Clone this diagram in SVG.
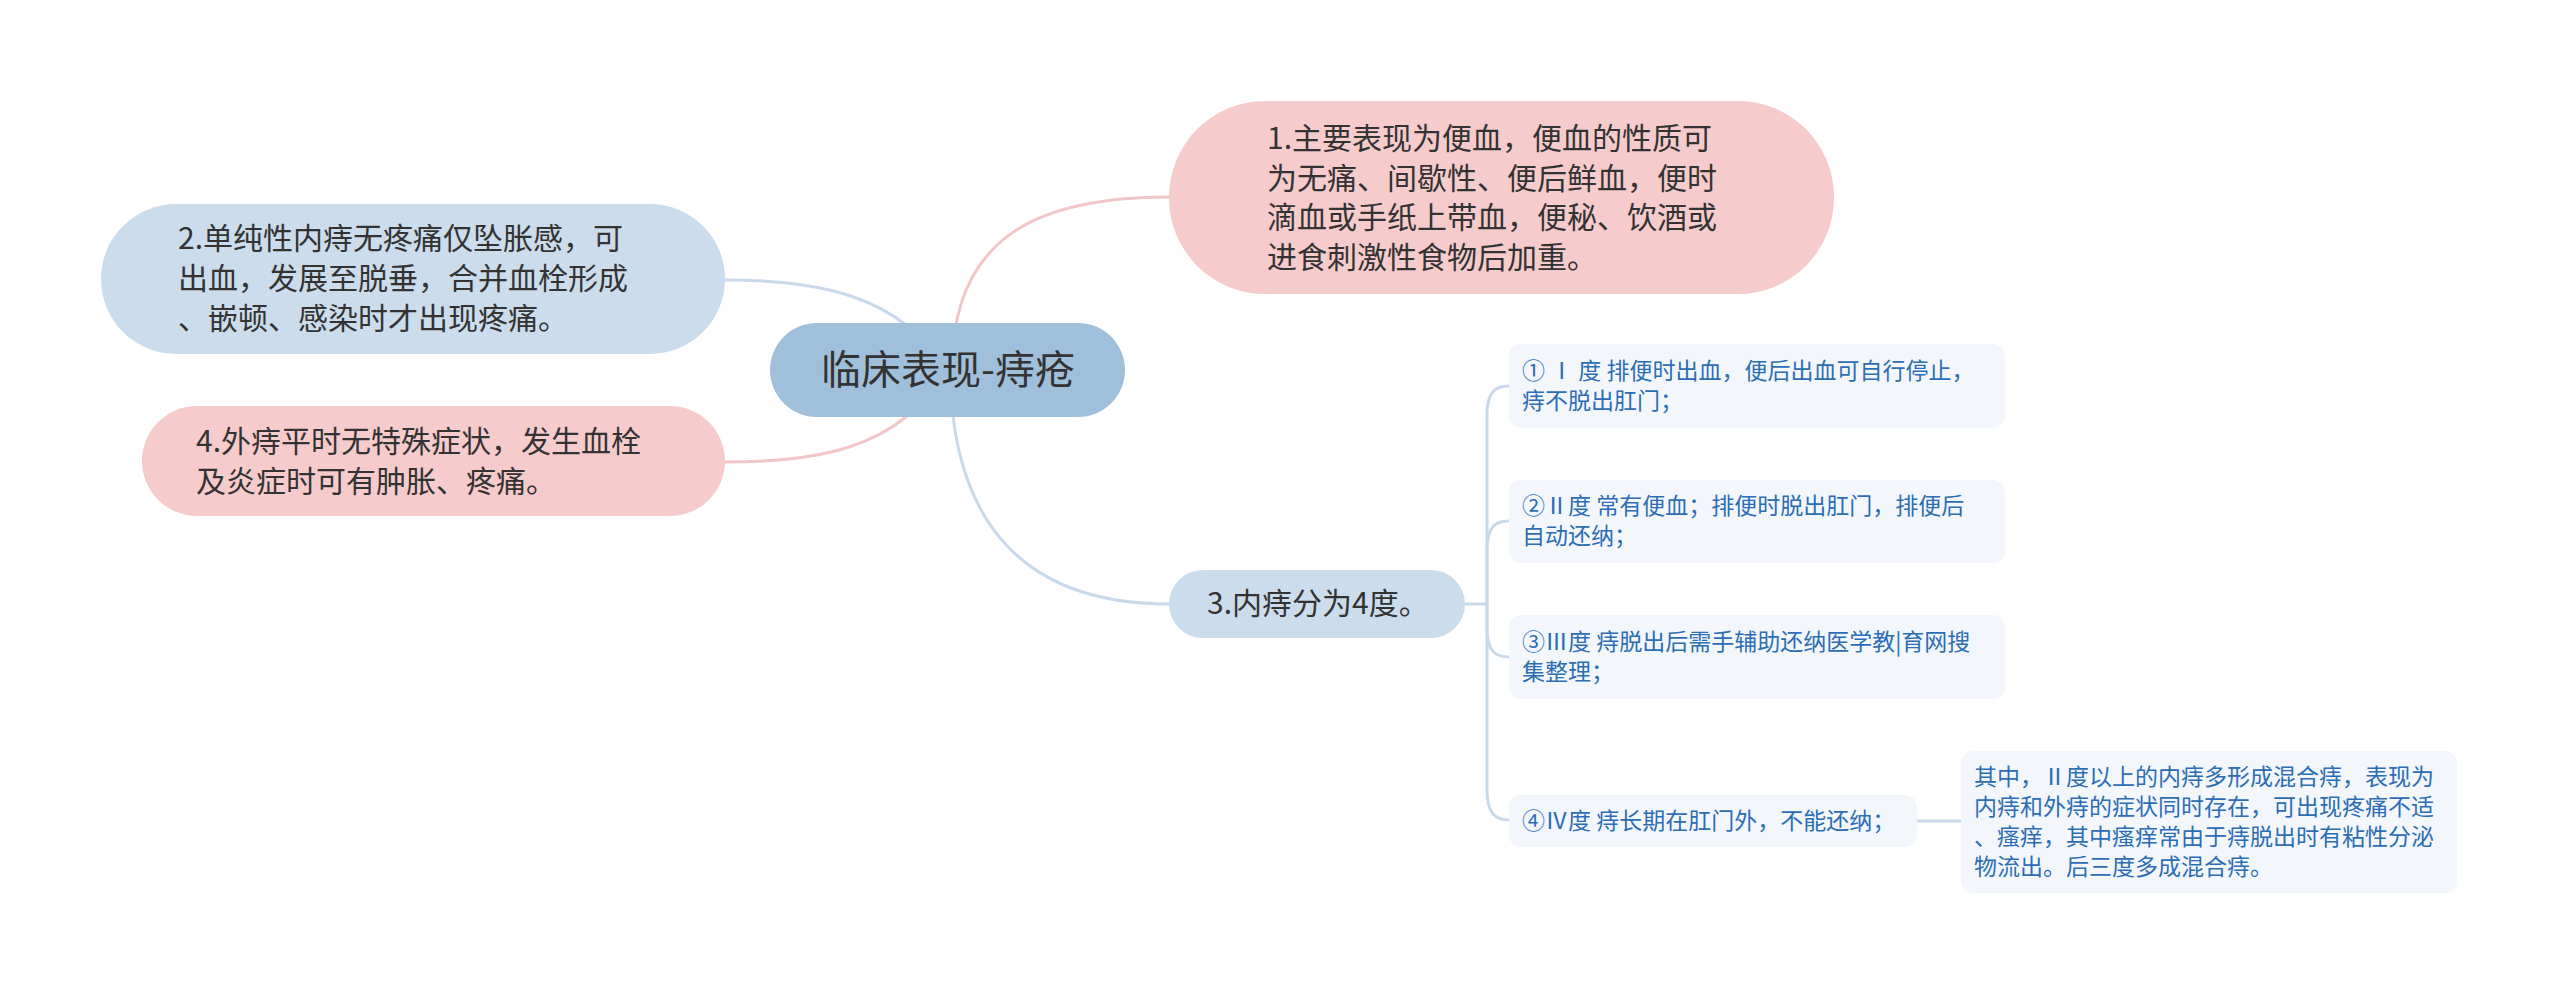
<svg xmlns="http://www.w3.org/2000/svg" width="2560" height="996" viewBox="0 0 2560 996">
<style>
text{font-family:"Noto Sans CJK SC","Noto Sans",sans-serif;}
.main{font-size:30px;fill:#333333;}
.sub{font-size:23px;fill:#2c6db4;}
.pink{fill:#f6cbcc;}
.blue{fill:#cbdcec;}
.leaf{fill:#f3f7fc;}
.cp{fill:none;stroke:#f2c5c7;stroke-width:3;}
.cb{fill:none;stroke:#c9d9ea;stroke-width:3;}
</style>
<rect width="2560" height="996" fill="#ffffff"/>
<g id="connectors">
<path class="cp" d="M952 370 C952 235 1040 197 1169 197"/>
<path class="cb" d="M950 370 C952 530 1030 604 1169 604"/>
<path class="cb" d="M945 370 C900 292 810 280 725 280"/>
<path class="cp" d="M945 370 C900 452 810 462 725 462"/>
<path class="cb" d="M1465 604 H1487"/>
<path class="cb" d="M1487 604 V415 C1487 392 1495 386 1509 386"/>
<path class="cb" d="M1487 604 V550 C1487 527 1495 521 1509 521"/>
<path class="cb" d="M1487 604 V628 C1487 651 1495 657 1509 657"/>
<path class="cb" d="M1487 604 V790 C1487 813 1495 820 1509 820"/>
<path class="cb" d="M1917 821 H1961"/>
</g>
<g id="center">
<rect x="770" y="323" width="355" height="94" rx="47" fill="#a0bfdb"/>
<text x="948" y="384" text-anchor="middle" style="font-size:40px;fill:#333333">临床表现-痔疮</text>
</g>
<g id="node1">
<rect class="pink" x="1169" y="101" width="665" height="193" rx="96"/>
<text class="main" x="1267" y="149">1.主要表现为便血，便血的性质可</text>
<text class="main" x="1267" y="189">为无痛、间歇性、便后鲜血，便时</text>
<text class="main" x="1267" y="228">滴血或手纸上带血，便秘、饮酒或</text>
<text class="main" x="1267" y="268">进食刺激性食物后加重。</text>
</g>
<g id="node2">
<rect class="blue" x="101" y="204" width="624" height="150" rx="75"/>
<text class="main" x="178" y="249">2.单纯性内痔无疼痛仅坠胀感，可</text>
<text class="main" x="178" y="289">出血，发展至脱垂，合并血栓形成</text>
<text class="main" x="178" y="329">、嵌顿、感染时才出现疼痛。</text>
</g>
<g id="node4">
<rect class="pink" x="142" y="406" width="583" height="110" rx="55"/>
<text class="main" x="196" y="452">4.外痔平时无特殊症状，发生血栓</text>
<text class="main" x="196" y="492">及炎症时可有肿胀、疼痛。</text>
</g>
<g id="node3">
<rect class="blue" x="1169" y="570" width="296" height="68" rx="34"/>
<text class="main" x="1207" y="614">3.内痔分为4度。</text>
</g>
<g id="sub1">
<rect class="leaf" x="1509" y="344" width="496" height="84" rx="12"/>
<text class="sub" x="1522" y="379">① Ⅰ 度 排便时出血，便后出血可自行停止，</text>
<text class="sub" x="1522" y="409">痔不脱出肛门；</text>
</g>
<g id="sub2">
<rect class="leaf" x="1509" y="480" width="496" height="83" rx="12"/>
<text class="sub" x="1522" y="514">②Ⅱ度 常有便血；排便时脱出肛门，排便后</text>
<text class="sub" x="1522" y="544">自动还纳；</text>
</g>
<g id="sub3">
<rect class="leaf" x="1509" y="615" width="496" height="84" rx="12"/>
<text class="sub" x="1522" y="650">③Ⅲ度 痔脱出后需手辅助还纳医学教|育网搜</text>
<text class="sub" x="1522" y="680">集整理；</text>
</g>
<g id="sub4">
<rect class="leaf" x="1509" y="795" width="408" height="52" rx="12"/>
<text class="sub" x="1522" y="829">④Ⅳ度 痔长期在肛门外，不能还纳；</text>
</g>
<g id="sub5">
<rect class="leaf" x="1961" y="751" width="496" height="142" rx="12"/>
<text class="sub" x="1974" y="785">其中，Ⅱ度以上的内痔多形成混合痔，表现为</text>
<text class="sub" x="1974" y="815">内痔和外痔的症状同时存在，可出现疼痛不适</text>
<text class="sub" x="1974" y="845">、瘙痒，其中瘙痒常由于痔脱出时有粘性分泌</text>
<text class="sub" x="1974" y="875">物流出。后三度多成混合痔。</text>
</g>
</svg>
